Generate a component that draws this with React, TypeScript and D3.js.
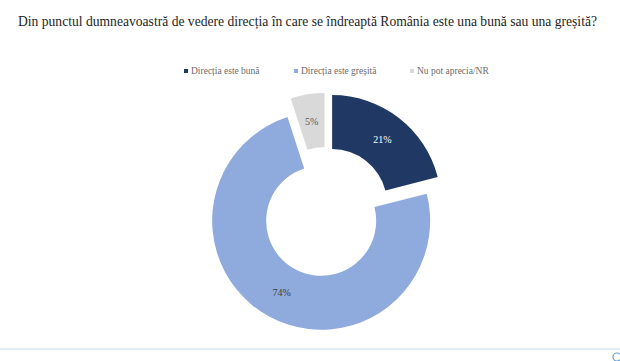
import React from "react";
import * as d3 from "d3";

// survey answers
const categories = ["Direcția este bună", "Direcția este greșită", "Nu pot aprecia/NR"];
const values = [21, 74, 5];
const colors = ["#1f3864", "#8faadc", "#d9d9d9"];
const labelColors = ["#ffffff", "#404040", "#595959"];

const title =
  "Din punctul dumneavoastră de vedere direcția în care se îndreaptă România este una bună sau una greșită?";

const width = 620;
const height = 361;

export default function App() {
  const cx = 326;
  const cy = 212;
  const outer = 109;
  const inner = 55;
  const explode = 10;

  const pie = d3
    .pie<number>()
    .sort(null)
    .value((d) => d);

  const arc = d3
    .arc<d3.PieArcDatum<number>>()
    .innerRadius(inner)
    .outerRadius(outer);

  const slices = pie(values);

  // legend item x positions
  const legendX = [186, 296, 412];

  return (
    <svg
      width={width}
      height={height}
      style={{ position: "absolute", left: 0, top: 0, background: "#fff" }}
    >
      <text
        x={307.5}
        y={26}
        textAnchor="middle"
        fontFamily="'Liberation Serif', serif"
        fontSize={13.6}
        fill="#1e1e1e"
      >
        {title}
      </text>

      {categories.map((c, i) => (
        <g key={c} transform={`translate(${legendX[i]},71)`}>
          <rect x={-2} y={-2} width={4} height={4} fill={colors[i]} />
          <text
            x={5}
            y={3}
            fontFamily="'Liberation Serif', serif"
            fontSize={9.5}
            fill="#6b6b6b"
          >
            {c}
          </text>
        </g>
      ))}

      <g transform={`translate(${cx},${cy})`}>
        {slices.map((s, i) => {
          const mid = (s.startAngle + s.endAngle) / 2;
          const dx = Math.sin(mid) * explode;
          const dy = -Math.cos(mid) * explode;
          const [lx, ly] = arc.centroid(s);
          return (
            <g key={i} transform={`translate(${dx},${dy})`}>
              <path d={arc(s) ?? ""} fill={colors[i]} />
              <text
                x={lx}
                y={ly}
                dy="0.35em"
                textAnchor="middle"
                fontFamily="'Liberation Serif', serif"
                fontSize={10}
                fill={labelColors[i]}
              >
                {`${values[i]}%`}
              </text>
            </g>
          );
        })}
      </g>

      <line x1={0} x2={width} y1={349} y2={349} stroke="#c9d6e3" strokeWidth={1} />
      <circle cx={617} cy={357} r={4} fill="none" stroke="#6a9fd1" strokeWidth={1.2} />
    </svg>
  );
}
